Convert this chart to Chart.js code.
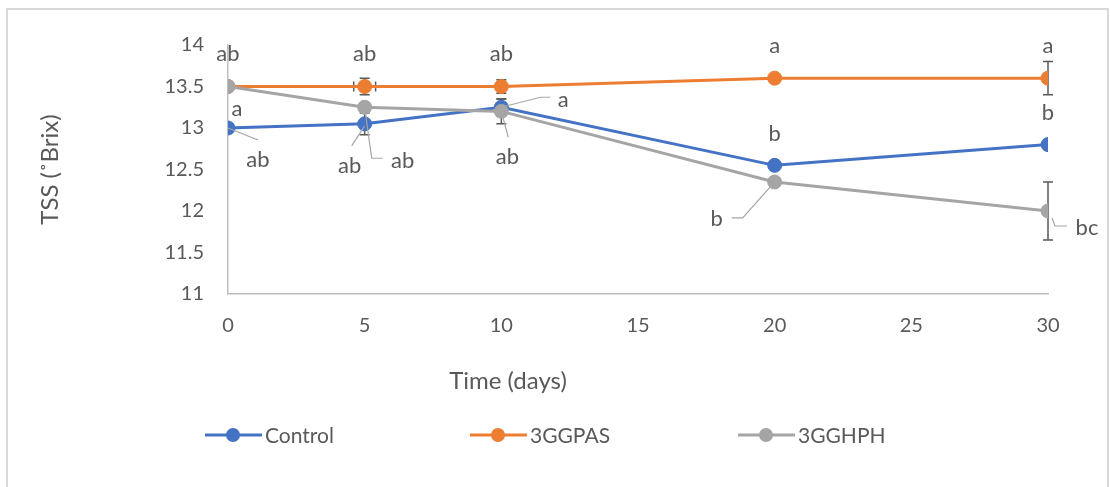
<!DOCTYPE html>
<html>
<head>
<meta charset="utf-8">
<title>TSS over storage time</title>
<script src="https://cdn.jsdelivr.net/npm/chart.js@4.4.0/dist/chart.umd.min.js"></script>
<style>
  html, body { margin: 0; padding: 0; background: #fff; }
  canvas { display: block; }
</style>
</head>
<body>
<canvas id="tssChart" width="1110" height="487"></canvas>
<script>
// storage days and axis ticks
var days = [0, 5, 10, 20, 30];
var xTicks = [0, 5, 10, 15, 20, 25, 30];
var yTicks = [11, 11.5, 12, 12.5, 13, 13.5, 14];

// TSS (°Brix) per treatment
var controlTss = [13.0, 13.05, 13.25, 12.55, 12.8];
var gpasTss = [13.5, 13.5, 13.5, 13.6, 13.6];
var ghphTss = [13.5, 13.25, 13.2, 12.35, 12.0];

// standard deviations (vertical) and day spread (horizontal)
var controlErr = [0, 0.13, 0.1, 0, 0];
var gpasErr = [0, 0.1, 0.08, 0, 0.2];
var ghphErr = [0, 0, 0.15, 0, 0.35];
var gpasDayErr = [0, 0.4, 0, 0, 0];

// significance letters
var controlLetters = ['ab', 'ab', 'a', 'b', 'b'];
var gpasLetters = ['ab', 'ab', 'ab', 'a', 'a'];
var ghphLetters = ['a', 'ab', 'ab', 'b', 'bc'];

var FONT = 'Lato, "Open Sans", sans-serif';
var TEXT = '#595959';

// where each letter sits relative to its point, with optional leader line
var controlPlace = [
  { dx: 30, dy: 32, leader: [[0, 0], [30, 12]] },
  { dx: -15, dy: 42, leader: [[0, 2], [-13, 22]] },
  { dx: 62, dy: -7, leader: [[0, 0], [39, -10], [49, -10]] },
  { dx: 0, dy: -31 },
  { dx: 0, dy: -32 }
];
var gpasPlace = [
  { dx: 0, dy: -33 }, { dx: 0, dy: -33 }, { dx: 0, dy: -33 },
  { dx: 0, dy: -32 }, { dx: 0, dy: -32 }
];
var ghphPlace = [
  { dx: 9, dy: 22 },
  { dx: 38, dy: 54, leader: [[0, 0], [7, 51], [18, 51]] },
  { dx: 6, dy: 46, leader: [[0, 0], [7, 26]] },
  { dx: -58, dy: 37, leader: [[0, 0], [-32, 36], [-43, 36]] },
  { dx: 39, dy: 17, leader: [[4, 7], [7, 15], [19, 15]] }
];

function toPoints(ys) {
  return days.map(function (d, i) { return { x: d, y: ys[i] }; });
}

var series = [
  { label: 'Control', color: '#4472C4', values: controlTss, err: controlErr, letters: controlLetters, place: controlPlace, order: 3 },
  { label: '3GGPAS', color: '#ED7D31', values: gpasTss, err: gpasErr, xErr: gpasDayErr, letters: gpasLetters, place: gpasPlace, order: 2 },
  { label: '3GGHPH', color: '#A5A5A5', values: ghphTss, err: ghphErr, letters: ghphLetters, place: ghphPlace, order: 1 }
];

// outer frame of the chart box
var framePlugin = {
  id: 'frame',
  beforeDraw: function (chart) {
    var ctx = chart.ctx;
    ctx.save();
    ctx.fillStyle = '#fff';
    ctx.fillRect(0, 0, chart.width, chart.height);
    ctx.strokeStyle = '#d9d9d9';
    ctx.lineWidth = 2;
    ctx.beginPath();
    ctx.moveTo(7, chart.height);
    ctx.lineTo(7, 9);
    ctx.lineTo(1108, 9);
    ctx.lineTo(1108, chart.height);
    ctx.stroke();
    ctx.restore();
  }
};

// error bars, drawn under the lines and markers
var errorBarPlugin = {
  id: 'errorBars',
  beforeDatasetsDraw: function (chart) {
    var ctx = chart.ctx;
    var xs = chart.scales.x, ys = chart.scales.y;
    ctx.save();
    ctx.strokeStyle = '#595959';
    ctx.lineWidth = 1.5;
    series.forEach(function (s, di) {
      var meta = chart.getDatasetMeta(di);
      meta.data.forEach(function (pt, i) {
        var e = s.err[i];
        if (e > 0) {
          var top = ys.getPixelForValue(s.values[i] + e);
          var bot = ys.getPixelForValue(s.values[i] - e);
          ctx.beginPath();
          ctx.moveTo(pt.x, top); ctx.lineTo(pt.x, bot);
          ctx.moveTo(pt.x - 5, top); ctx.lineTo(pt.x + 5, top);
          ctx.moveTo(pt.x - 5, bot); ctx.lineTo(pt.x + 5, bot);
          ctx.stroke();
        }
        var xe = s.xErr ? s.xErr[i] : 0;
        if (xe > 0) {
          var l = xs.getPixelForValue(days[i] - xe);
          var r = xs.getPixelForValue(days[i] + xe);
          ctx.beginPath();
          ctx.moveTo(l, pt.y); ctx.lineTo(r, pt.y);
          ctx.moveTo(l, pt.y - 5); ctx.lineTo(l, pt.y + 5);
          ctx.moveTo(r, pt.y - 5); ctx.lineTo(r, pt.y + 5);
          ctx.stroke();
        }
      });
    });
    ctx.restore();
  }
};

// significance letters, leader lines, x title and the legend row
var annotatePlugin = {
  id: 'annotate',
  afterDraw: function (chart) {
    var ctx = chart.ctx;
    ctx.save();
    ctx.font = '22px ' + FONT;
    ctx.textAlign = 'center';
    ctx.textBaseline = 'middle';
    series.forEach(function (s, di) {
      var meta = chart.getDatasetMeta(di);
      meta.data.forEach(function (pt, i) {
        var p = s.place[i];
        if (p.leader) {
          ctx.strokeStyle = '#a6a6a6';
          ctx.lineWidth = 1.2;
          ctx.beginPath();
          p.leader.forEach(function (q, k) {
            if (k === 0) ctx.moveTo(pt.x + q[0], pt.y + q[1]);
            else ctx.lineTo(pt.x + q[0], pt.y + q[1]);
          });
          ctx.stroke();
        }
        ctx.fillStyle = TEXT;
        ctx.fillText(s.letters[i], pt.x + p.dx, pt.y + p.dy);
      });
    });

    // x axis title
    ctx.font = '24px ' + FONT;
    ctx.fillStyle = TEXT;
    ctx.fillText('Time (days)', 508, 381);

    // legend
    var legendX = [205, 470, 738];
    var ly = 435;
    ctx.font = '21px ' + FONT;
    ctx.textAlign = 'left';
    series.forEach(function (s, i) {
      var x0 = legendX[i];
      ctx.strokeStyle = s.color;
      ctx.lineWidth = 3;
      ctx.beginPath();
      ctx.moveTo(x0, ly); ctx.lineTo(x0 + 57, ly);
      ctx.stroke();
      ctx.fillStyle = s.color;
      ctx.beginPath();
      ctx.arc(x0 + 28, ly, 7, 0, Math.PI * 2);
      ctx.fill();
      ctx.fillStyle = TEXT;
      ctx.fillText(s.label, x0 + 60, ly + 1);
    });
    ctx.restore();
  }
};

var ctx = document.getElementById('tssChart').getContext('2d');
var tssChart = new Chart(ctx, {
  type: 'line',
  data: {
    datasets: series.map(function (s) {
      return {
        label: s.label,
        data: toPoints(s.values),
        borderColor: s.color,
        backgroundColor: s.color,
        pointBackgroundColor: s.color,
        pointBorderColor: s.color,
        pointBorderWidth: 1,
        pointRadius: 7,
        borderWidth: 3,
        tension: 0,
        order: s.order
      };
    })
  },
  options: {
    responsive: false,
    animation: false,
    devicePixelRatio: 1,
    layout: { padding: { left: 0, right: 62, top: 45, bottom: 0 } },
    plugins: {
      legend: { display: false },
      tooltip: { enabled: false }
    },
    scales: {
      x: {
        type: 'linear',
        min: 0,
        max: 30,
        afterBuildTicks: function (scale) {
          scale.ticks = xTicks.map(function (v) { return { value: v }; });
        },
        afterFit: function (scale) { scale.height = 193; },
        grid: { display: false, drawTicks: false },
        border: { display: true, color: '#bfbfbf', width: 1.5 },
        ticks: {
          padding: 20, color: TEXT, font: { family: FONT, size: 20 },
          callback: function (v) { return String(v); }
        }
      },
      y: {
        min: 11,
        max: 14,
        afterBuildTicks: function (scale) {
          scale.ticks = yTicks.map(function (v) { return { value: v }; });
        },
        afterFit: function (scale) { scale.width = 228; },
        grid: { display: false, drawTicks: false },
        border: { display: true, color: '#bfbfbf', width: 1.5 },
        ticks: {
          padding: 24, color: TEXT, font: { family: FONT, size: 20 },
          callback: function (v) { return String(v); }
        },
        title: {
          display: true,
          text: 'TSS (˚Brix)',
          color: TEXT,
          font: { family: FONT, size: 24 },
          padding: { top: 36, bottom: 0 }
        }
      }
    }
  },
  plugins: [framePlugin, errorBarPlugin, annotatePlugin]
});
</script>
</body>
</html>
